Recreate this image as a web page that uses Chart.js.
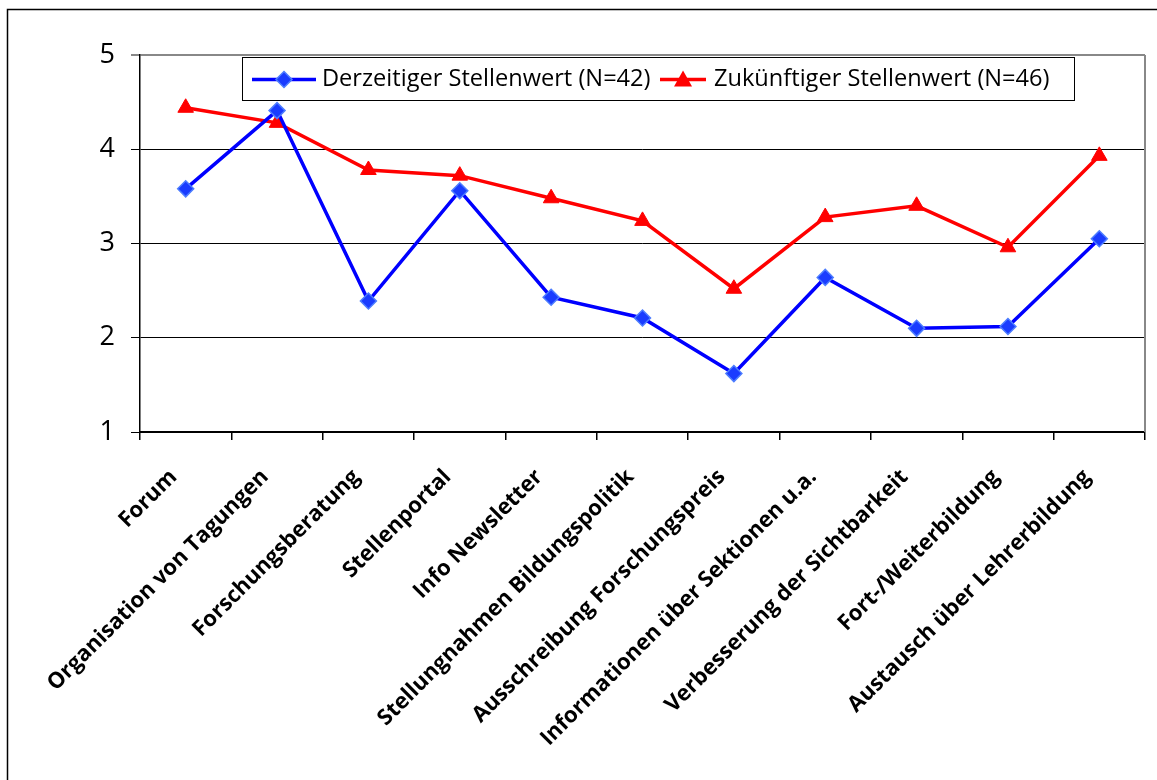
<!DOCTYPE html>
<html>
<head>
<meta charset="utf-8">
<script src="https://cdn.jsdelivr.net/npm/chart.js@4/dist/chart.umd.min.js"></script>
<style>
  html, body { margin: 0; padding: 0; background: #fff; }
  #wrap { width: 1157px; height: 780px; position: relative; }
</style>
</head>
<body>
<div id="wrap"><canvas id="chart"></canvas></div>
<script>
const categories = [
  'Forum',
  'Organisation von Tagungen',
  'Forschungsberatung',
  'Stellenportal',
  'Info Newsletter',
  'Stellungnahmen Bildungspolitik',
  'Ausschreibung Forschungspreis',
  'Informationen über Sektionen u.a.',
  'Verbesserung der Sichtbarkeit',
  'Fort-/Weiterbildung',
  'Austausch über Lehrerbildung'
];
const derzeitig = [3.58, 4.41, 2.39, 3.56, 2.43, 2.21, 1.62, 2.64, 2.10, 2.12, 3.05];
const zukuenftig = [4.44, 4.28, 3.78, 3.72, 3.48, 3.24, 2.52, 3.28, 3.40, 2.96, 3.93];
const seriesNames = ['Derzeitiger Stellenwert (N=42)', 'Zukünftiger Stellenwert (N=46)'];
const yTicks = [1, 2, 3, 4, 5];

const FONT = '"Open Sans", Calibri, sans-serif';

// outer frame, right plot border and the boxed legend inside the plot
const frame = {
  id: 'frame',
  beforeDraw(chart) {
    const ctx = chart.ctx;
    ctx.save();
    ctx.fillStyle = '#fff';
    ctx.fillRect(0, 0, chart.width, chart.height);
    ctx.strokeStyle = '#000';
    ctx.lineWidth = 1.5;
    ctx.strokeRect(7.5, 9.5, 1200, 900);
    ctx.restore();
  },
  afterDatasetsDraw(chart) {
    const ctx = chart.ctx;
    const a = chart.chartArea;
    ctx.save();
    ctx.strokeStyle = '#888';
    ctx.lineWidth = 2;
    ctx.beginPath();
    ctx.moveTo(a.right, a.top);
    ctx.lineTo(a.right, a.bottom);
    ctx.stroke();

    // legend
    const bx = 242, by = 57, bw = 832, bh = 43, cy = by + bh / 2 + 1;
    ctx.fillStyle = '#fff';
    ctx.fillRect(bx, by, bw, bh);
    ctx.strokeStyle = '#000';
    ctx.lineWidth = 1;
    ctx.strokeRect(bx + 0.5, by + 0.5, bw, bh);

    ctx.font = '23.6px ' + FONT;
    ctx.textBaseline = 'middle';
    ctx.fillStyle = '#000';

    // blue
    ctx.strokeStyle = '#0000ff';
    ctx.lineWidth = 3.5;
    ctx.beginPath();
    ctx.moveTo(252, cy);
    ctx.lineTo(316, cy);
    ctx.stroke();
    ctx.fillStyle = '#1a3cff';
    ctx.strokeStyle = '#4d7dff';
    ctx.lineWidth = 1.5;
    ctx.beginPath();
    ctx.moveTo(284, cy - 8);
    ctx.lineTo(292, cy);
    ctx.lineTo(284, cy + 8);
    ctx.lineTo(276, cy);
    ctx.closePath();
    ctx.fill();
    ctx.stroke();
    ctx.fillStyle = '#000';
    ctx.fillText(seriesNames[0], 322, cy);

    // red
    ctx.strokeStyle = '#ff0000';
    ctx.lineWidth = 3.5;
    ctx.beginPath();
    ctx.moveTo(660, cy);
    ctx.lineTo(706, cy);
    ctx.stroke();
    ctx.fillStyle = '#ff0000';
    ctx.beginPath();
    ctx.moveTo(683, cy - 9);
    ctx.lineTo(692, cy + 7);
    ctx.lineTo(674, cy + 7);
    ctx.closePath();
    ctx.fill();
    ctx.fillStyle = '#000';
    ctx.fillText(seriesNames[1], 714, cy);
    ctx.restore();
  }
};

new Chart(document.getElementById('chart'), {
  type: 'line',
  data: {
    labels: categories,
    datasets: [
      {
        label: seriesNames[0],
        data: derzeitig,
        borderColor: '#0000ff',
        borderWidth: 3.5,
        pointStyle: 'rectRot',
        pointRadius: 8,
        pointHoverRadius: 8,
        pointBackgroundColor: '#1a3cff',
        pointBorderColor: '#4d7dff',
        pointBorderWidth: 1.5,
        tension: 0
      },
      {
        label: seriesNames[1],
        data: zukuenftig,
        borderColor: '#ff0000',
        borderWidth: 3.5,
        pointStyle: 'triangle',
        pointRadius: 9,
        pointHoverRadius: 9,
        pointBackgroundColor: '#ff0000',
        pointBorderColor: '#ff0000',
        pointBorderWidth: 1,
        tension: 0
      }
    ]
  },
  options: {
    responsive: true,
    maintainAspectRatio: false,
    animation: false,
    layout: { padding: { top: 55, left: 0, right: 12, bottom: 0 } },
    plugins: {
      legend: { display: false },
      tooltip: { enabled: false }
    },
    scales: {
      x: {
        offset: true,
        grid: {
          offset: true,
          drawOnChartArea: false,
          color: '#000',
          tickLength: 8,
          lineWidth: 1.5
        },
        border: { color: '#000', width: 2 },
        ticks: {
          autoSkip: false,
          maxRotation: 45,
          minRotation: 45,
          padding: 12,
          color: '#000',
          font: { family: FONT, size: 22, weight: 'bold' },
          // trailing spaces pull the rotated label a little down-left of the tick
          callback: (v, i) => categories[i] + '   '
        },
        afterFit(scale) { scale.height = 780 - 432; }
      },
      y: {
        min: 1,
        max: 5,
        afterBuildTicks(scale) { scale.ticks = yTicks.map(v => ({ value: v })); },
        grid: {
          color: ctx => ctx.tick && ctx.tick.value === 5 ? '#888' : '#000',
          lineWidth: ctx => ctx.tick && ctx.tick.value === 5 ? 2 : 1,
          tickLength: 9
        },
        border: { color: '#000', width: 1.5 },
        ticks: {
          padding: 16,
          color: '#000',
          font: { family: FONT, size: 27 }
        },
        afterFit(scale) { scale.width = 140; }
      }
    }
  },
  plugins: [frame]
});
</script>
</body>
</html>
